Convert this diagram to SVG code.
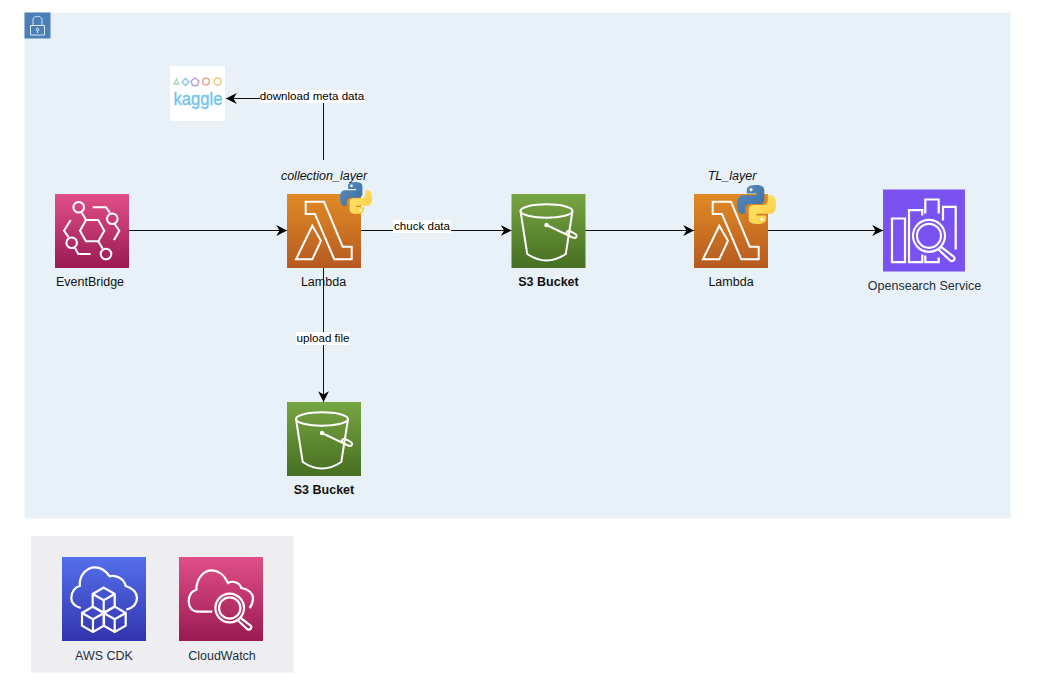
<svg xmlns="http://www.w3.org/2000/svg" xmlns:xlink="http://www.w3.org/1999/xlink" width="1043" height="691" viewBox="0 0 1043 691">
<style>
text{font-family:"Liberation Sans",Arial,sans-serif;font-size:12.5px;fill:#111;text-anchor:middle}
.lbl{font-size:11.600px;fill:#000}
.b{font-weight:bold}
.i{font-style:italic}
.w{fill:none;stroke:#fff;stroke-width:2;stroke-linejoin:miter}
.c{fill:none;stroke:#111;stroke-width:1}
.bg{fill:#fff}
</style>
<defs>
<marker id="arr" markerUnits="userSpaceOnUse" markerWidth="12" markerHeight="12" refX="9" refY="5" orient="auto" viewBox="0 0 10 10"><path d="M0 0.5L9 5L0 9.5L2.800 5Z" fill="#000"/></marker>
<linearGradient id="gO" x1="0" y1="0" x2="0" y2="1"><stop offset="0" stop-color="#e08a24"/><stop offset="1" stop-color="#b65a21"/></linearGradient>
<linearGradient id="gG" x1="0" y1="0" x2="0" y2="1"><stop offset="0" stop-color="#78a543"/><stop offset="1" stop-color="#466f22"/></linearGradient>
<linearGradient id="gP" x1="0" y1="0" x2="0" y2="1"><stop offset="0" stop-color="#e14f87"/><stop offset="1" stop-color="#9a1a52"/></linearGradient>
<linearGradient id="gB" x1="0" y1="0" x2="0" y2="1"><stop offset="0" stop-color="#5470ea"/><stop offset="1" stop-color="#3234ae"/></linearGradient>
<linearGradient id="gPy1" x1="0" y1="0" x2="1" y2="1"><stop offset="0" stop-color="#5a8fc0"/><stop offset="1" stop-color="#3c6c9c"/></linearGradient>
<linearGradient id="gPy2" x1="0" y1="0" x2="1" y2="1"><stop offset="0" stop-color="#ffe873"/><stop offset="1" stop-color="#fbc93a"/></linearGradient>
<g id="lambdaIcon"><rect width="74" height="74" fill="url(#gO)"/><path class="w" d="M18.700 7.700H37L55.700 52.700H64.700V65.300H47.300L28 20H18.700ZM25.300 31.700L34 46.700L25.300 65.300H9Z"/></g>
<g id="s3Icon"><rect width="74" height="74" fill="url(#gG)"/><g class="w"><ellipse cx="35" cy="17" rx="26" ry="6.700"/><path d="M9 17L15.700 60Q35 73 54.300 60L61 17"/><path d="M35 31L59.300 42.700"/><ellipse cx="60" cy="40.500" rx="5.500" ry="2.400" transform="rotate(25 60 40.500)"/></g><circle cx="35" cy="31" r="2.200" fill="#fff"/></g>
<g id="python"><path fill="url(#gPy1)" d="M49 0C24 0 25 11 25 11V22H50V26H15C15 26 0 24 0 50C0 75 13 74 13 74H21V62C21 62 20 49 34 49H58C58 49 70 49 70 37V13C70 13 72 0 49 0Z"/><circle cx="36" cy="12" r="4" fill="#fff"/><path fill="url(#gPy2)" d="M51 100C76 100 75 89 75 89V78H50V74H85C85 74 100 76 100 50C100 25 87 26 87 26H79V38C79 38 80 51 66 51H42C42 51 30 51 30 63V87C30 87 28 100 51 100Z"/><circle cx="64" cy="88" r="4" fill="#fff"/></g>
<g id="cube"><path d="M0-12.700L11-6.300V6.300L0 12.700L-11 6.300V-6.300ZM-11-6.300L0 0L11-6.300M0 0V12.700"/></g>
</defs>

<rect id="main-panel" x="24.500" y="12.500" width="986" height="506" fill="#e8f1f8"/>
<g id="lock">
<rect x="24.500" y="12.500" width="26" height="26" fill="#4a7fb8"/>
<path d="M30.500 25.500H44.500V35H30.500ZM33 25.500V20C33 15 42 15 42 20V25.500" fill="none" stroke="#fff" stroke-width="0.800"/>
<circle cx="37.500" cy="29.500" r="1.300" fill="none" stroke="#fff" stroke-width="0.800"/><path d="M37.500 30.800V33" stroke="#fff" stroke-width="0.800"/>
</g>
<rect id="tools-panel" x="31" y="536" width="262.500" height="136.500" fill="#eeeef0"/>

<g id="connectors">
<path class="c" d="M129 230.500H287" marker-end="url(#arr)"/>
<path class="c" d="M361 230.500H511.500" marker-end="url(#arr)"/>
<path class="c" d="M585 230.500H694" marker-end="url(#arr)"/>
<path class="c" d="M768 230.500H883" marker-end="url(#arr)"/>
<path class="c" d="M323.500 268V402" marker-end="url(#arr)"/>
<path class="c" d="M323.500 160V98.500H226" marker-end="url(#arr)"/>
<rect class="bg" x="260" y="90" width="104" height="13"/>
<text class="lbl" x="312" y="100">download meta data</text>
<rect class="bg" x="393" y="220" width="58" height="13"/>
<text class="lbl" x="422" y="230">chuck data</text>
<rect class="bg" x="296" y="332" width="54" height="13"/>
<text class="lbl" x="323" y="342">upload file</text>
</g>

<g id="kaggle">
<rect x="170" y="66" width="55" height="55" fill="#fff"/>
<g fill="none" stroke-width="1.300">
<path d="M176.500 79L179 84H174Z" stroke="#a9d9b8"/>
<path d="M185.500 78.500L189 82L185.500 85.500L182 82Z" stroke="#7cc8ec"/>
<path d="M195 78L199 81L197.500 85.500H192.500L191 81Z" stroke="#b59ecf"/>
<circle cx="206" cy="81.500" r="3.300" stroke="#ee9a7c"/>
<circle cx="217.500" cy="81.500" r="3.500" stroke="#e9c274"/>
</g>
<text x="198" y="105" textLength="49" lengthAdjust="spacingAndGlyphs" style="font-size:19px;fill:#72c3ee;stroke:#72c3ee;stroke-width:.4">kaggle</text>
</g>

<g id="eventbridge">
<g transform="translate(55 194)"><rect width="74" height="74" fill="url(#gP)"/><g class="w"><path d="M31 26H43.300L49.300 36.700L43.300 47.300H31L25 36.700Z"/><circle cx="23.700" cy="13.300" r="5.300"/><circle cx="57.300" cy="24.700" r="5.300"/><circle cx="16.700" cy="48.700" r="5.300"/><circle cx="51" cy="60" r="5.300"/><path d="M27 19L31 26M43.300 47.300L47.700 54.700M37.700 13.300H51L55 19M59.700 30L64.300 36.700L59 46M15.700 26L9 36.700L13.700 43.300M20 54L23.300 60H35.700"/></g></g>
<text x="90" y="286">EventBridge</text>
</g>

<g id="lambda-collection">
<text class="i" x="324" y="180">collection_layer</text>
<use href="#lambdaIcon" x="287" y="194"/>
<use href="#python" transform="translate(340 182) scale(.32)"/>
<text x="323.500" y="286">Lambda</text>
</g>

<g id="s3-main">
<use href="#s3Icon" x="511.500" y="194"/>
<text class="b" x="548.500" y="286">S3 Bucket</text>
</g>

<g id="lambda-tl">
<text class="i" x="732" y="180">TL_layer</text>
<use href="#lambdaIcon" x="694" y="194"/>
<use href="#python" transform="translate(737 185) scale(.39)"/>
<text x="731" y="286">Lambda</text>
</g>

<g id="opensearch">
<g transform="translate(883 189.500)"><rect width="82" height="82" fill="#7a52f2"/><g class="w" style="stroke-width:2.200"><path d="M9 29H22V72.700H9ZM39.300 26V20.700H26V72.700H39.300V65M42.300 24V10H55.700V24M42.300 66V72.700H55.700V68M60 31V17.300H72.700V60"/><circle cx="46" cy="46.300" r="16"/><circle cx="46" cy="46.300" r="12"/><path d="M57.500 57L70 66.500Q73 69 70.500 71Q68.500 72.500 66 70L55 59.500"/></g></g>
<text x="924.500" y="289.500" style="fill:#232f3e">Opensearch Service</text>
</g>

<g id="s3-lower">
<use href="#s3Icon" x="287" y="402"/>
<text class="b" x="324" y="494">S3 Bucket</text>
</g>

<g id="cdk">
<g transform="translate(62 557)"><rect width="84" height="84" fill="url(#gB)"/><g class="w" style="stroke-width:2.200"><path d="M18.700 51C12 49 9.300 45 9.300 41C9.300 35 13 30 17.700 29C17 18 25 10.300 32.700 10.300C39 10.300 44 14 47.700 19.300C53 17.500 62 21 63.700 29C70 31 75 35 75 41C75 47 70 51.500 64.300 52.700"/><use href="#cube" x="41.700" y="43.300"/><use href="#cube" x="31" y="62.300"/><use href="#cube" x="52.700" y="62.300"/></g></g>
<text x="104" y="660" style="fill:#232f3e">AWS CDK</text>
</g>

<g id="cloudwatch">
<g transform="translate(179 557)"><rect width="84" height="84" fill="url(#gP)"/><g class="w" style="stroke-width:2.200"><path d="M33.300 54.700H19C13 54.700 9.700 50 9.700 44.300C9.700 38 13 34 17.300 32.700C17.500 21 25 13.300 32.300 13.300C40 13.300 46 19 49 26C54 23 61 26 62.300 31C69 32 74 36 74 41C74 45 73 48 70.700 51"/><circle cx="50.700" cy="51" r="14.300"/><circle cx="50.700" cy="51" r="10.700"/><path d="M61 60.500L71 68Q73.500 70 71.500 72Q69.500 73.500 67.500 71.500L59 63.500"/></g></g>
<text x="222" y="660" style="fill:#232f3e">CloudWatch</text>
</g>
</svg>
